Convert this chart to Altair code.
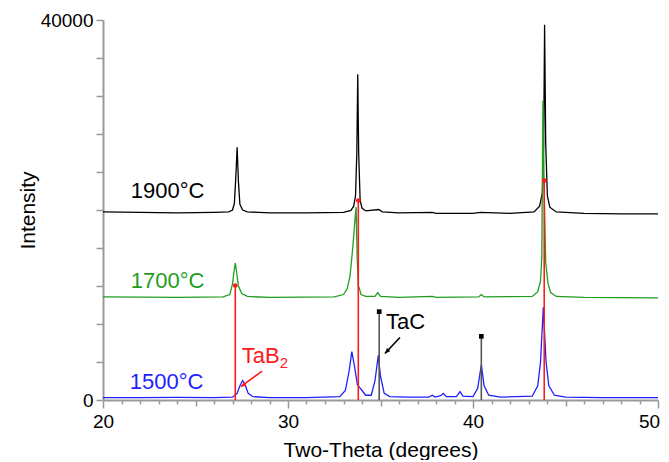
import altair as alt
import pandas as pd

# ---------------- data ----------------
theta_1900 = [20.0, 22.0, 24.0, 26.0, 26.8, 27.0, 27.1, 27.18, 27.25, 27.32, 27.4, 27.55, 27.8,
              29.0, 31.0, 33.0, 33.4, 33.55, 33.65, 33.72, 33.77, 33.82, 33.9, 34.0, 34.2,
              34.9, 35.1, 36.0, 37.8, 38.0, 40.0, 40.4, 42.0, 43.3, 43.6, 43.75, 43.82,
              43.87, 43.93, 44.02, 44.15, 44.5, 46.0, 48.0, 50.0]
int_1900 = [19800, 19750, 19700, 19750, 19800, 20000, 20700, 23500, 26600, 23000, 20600, 20000, 19800,
            19700, 19700, 19750, 19950, 20400, 21500, 26000, 34300, 26000, 21000, 20200, 19900,
            20050, 19800, 19700, 19750, 19650, 19650, 19750, 19650, 19800, 20400, 21800, 27000,
            39500, 27000, 21500, 20300, 19800, 19650, 19600, 19600]

theta_1700 = [20.0, 24.0, 26.5, 26.85, 27.0, 27.08, 27.15, 27.22, 27.32, 27.5, 27.8, 29.0,
              32.5, 33.0, 33.2, 33.35, 33.5, 33.6, 33.68, 33.74, 33.8, 33.85, 33.95, 34.2,
              34.7, 34.85, 35.0, 36.0, 37.8, 38.0, 40.3, 40.45, 40.6, 43.2, 43.5, 43.65,
              43.72, 43.78, 43.85, 43.93, 44.05, 44.2, 44.5, 46.0, 50.0]
int_1700 = [10850, 10800, 10850, 11100, 12200, 13500, 14400, 13500, 12000, 11200, 10900, 10800,
            10850, 11100, 11700, 13000, 16000, 18500, 20300, 15000, 12000, 11800, 11100, 10900,
            10900, 11300, 10900, 10800, 10900, 10800, 10850, 11100, 10850, 10900, 11400, 12500,
            15000, 31500, 22000, 14500, 12300, 11300, 10900, 10800, 10750]

theta_1500 = [20.0, 22.0, 24.0, 26.0, 27.0, 27.25, 27.4, 27.55, 27.7, 27.85, 28.1, 29.0, 31.0,
              32.8, 33.1, 33.3, 33.45, 33.6, 33.75, 33.9, 34.0, 34.2, 34.5, 34.7, 34.88, 35.0,
              35.2, 35.5, 36.5, 37.6, 37.8, 37.95, 38.25, 38.4, 38.55, 39.1, 39.3, 39.45, 40.0,
              40.25, 40.45, 40.6, 40.85, 41.5, 43.2, 43.5, 43.65, 43.8, 43.95, 44.1, 44.4,
              45.0, 47.0, 50.0]
int_1500 = [250, 250, 280, 250, 300, 700, 1500, 2050, 1500, 700, 350, 260, 250,
            350, 1000, 3000, 5100, 3500, 1600, 1250, 1000, 500, 500, 2000, 4700, 2500,
            700, 350, 300, 300, 500, 300, 450, 700, 350, 350, 870, 400, 350,
            1200, 3700, 1500, 500, 300, 400, 1500, 4000, 9750, 4000, 1500, 500,
            300, 260, 250]

series_names = ["1900°C", "1700°C", "1500°C"]
series_colors = ["#000000", "#1e9e1e", "#1f1fff"]
label_x = [21.5, 21.5, 21.45]
label_y = [21230, 11740, 1190]

# reference lines (TaB2 in red, TaC in black)
tab2_theta = [27.15, 33.8, 43.85]
tab2_height = [12050, 21000, 23100]
tac_theta = [34.93, 40.45]
tac_height = [9300, 6700]

# annotations
phase_text = ["TaB", "TaC"]
phase_color = ["#ff1a1a", "#000000"]
phase_x = [27.5, 35.3]
phase_y = [3900, 7520]
arrow_x = [28.6, 36.05]
arrow_y = [3050, 6580]
arrow_tip_x = [27.45, 35.24]
arrow_tip_y = [1400, 4890]
arrow_angle = [237, 223]

# ---------------- tables ----------------
curves = pd.concat([
    pd.DataFrame({"theta": theta_1900, "intensity": int_1900, "series": series_names[0]}),
    pd.DataFrame({"theta": theta_1700, "intensity": int_1700, "series": series_names[1]}),
    pd.DataFrame({"theta": theta_1500, "intensity": int_1500, "series": series_names[2]}),
], ignore_index=True)

labels = pd.DataFrame({"x": label_x, "y": label_y, "text": series_names, "color": series_colors})
tab2 = pd.DataFrame({"x": tab2_theta, "h": tab2_height, "zero": 0})
tac = pd.DataFrame({"x": tac_theta, "h": tac_height, "zero": 0})
phases = pd.DataFrame({"x": phase_x, "y": phase_y, "text": phase_text, "color": phase_color})
arrows = pd.DataFrame({"x": arrow_x, "y": arrow_y, "x2": arrow_tip_x, "y2": arrow_tip_y,
                       "angle": arrow_angle, "color": phase_color})

FONT = "Liberation Sans"
xscale = alt.Scale(domain=[20, 50], nice=False, zero=False)
yscale = alt.Scale(domain=[0, 40000], nice=False)

x_axis = alt.Axis(
    values=list(range(20, 51)), tickCount=200, format="d",
    labelExpr="datum.value % 10 === 0 ? datum.label : ''",
    tickSize={"condition": [{"test": "datum.value % 10 === 0", "value": 8},
                            {"test": "datum.value % 5 === 0", "value": 6}], "value": 4},
    labelOffset={"condition": {"test": "datum.value === 50", "value": -9}, "value": 0},
    labelFlush=False, labelOverlap=False, labelBound=False, grid=False,
    title="Two-Theta (degrees)", titleY=39, labelPadding=4,
)
y_axis = alt.Axis(
    values=list(range(0, 40001, 4000)), tickCount=200,
    labelExpr="datum.value === 0 || datum.value === 40000 ? datum.label : ''",
    format="d", tickSize=7, labelPadding=3, labelFlush=False, labelOverlap=False, grid=False,
    title="Intensity", titleX=-65, titleY=190,
)

lines = alt.Chart(curves).mark_line(strokeWidth=1.3).encode(
    x=alt.X("theta:Q", scale=xscale, axis=x_axis),
    y=alt.Y("intensity:Q", scale=yscale, axis=y_axis),
    color=alt.Color("series:N", scale=alt.Scale(domain=series_names, range=series_colors), legend=None),
    order=alt.Order("theta:Q"),
)

tab2_rules = alt.Chart(tab2).mark_rule(color="#ff1a1a", strokeWidth=1.6).encode(
    x="x:Q", y="zero:Q", y2="h:Q")
tab2_dots = alt.Chart(tab2).mark_circle(color="#ff1a1a", size=22, opacity=1).encode(
    x="x:Q", y="h:Q")
tac_rules = alt.Chart(tac).mark_rule(color="#555555", strokeWidth=1.6).encode(
    x="x:Q", y="zero:Q", y2="h:Q")
tac_dots = alt.Chart(tac).mark_square(color="#000000", size=22, opacity=1).encode(
    x="x:Q", y="h:Q")

series_text = alt.Chart(labels).mark_text(
    font=FONT, fontSize=22, align="left", baseline="alphabetic").encode(
    x="x:Q", y="y:Q", text="text:N", color=alt.Color("color:N", scale=None))

phase_txt = alt.Chart(phases).mark_text(
    font=FONT, fontSize=22, align="left", baseline="alphabetic").encode(
    x="x:Q", y="y:Q", text="text:N", color=alt.Color("color:N", scale=None))
sub_txt = alt.Chart(phases.iloc[[0]]).mark_text(
    font=FONT, fontSize=15, align="left", baseline="alphabetic", dx=38, dy=5,
    color="#ff1a1a").encode(x="x:Q", y="y:Q", text=alt.value("2"))

arrow_lines = alt.Chart(arrows).mark_rule(strokeWidth=1.6).encode(
    x="x:Q", y="y:Q", x2="x2:Q", y2="y2:Q", color=alt.Color("color:N", scale=None))
arrow_heads = alt.Chart(arrows).mark_point(
    shape="M0,0 L-0.5,1.2 L0.5,1.2 Z", filled=True, size=80, opacity=1).encode(
    x="x2:Q", y="y2:Q", angle=alt.Angle("angle:Q", scale=None),
    color=alt.Color("color:N", scale=None))

chart = alt.layer(
    lines, tab2_rules, tac_rules, tab2_dots, tac_dots,
    series_text, phase_txt, sub_txt, arrow_lines, arrow_heads,
).properties(
    width=555, height=380,
    autosize=alt.AutoSizeParams(type="none"),
    padding={"left": 95, "top": 12, "right": 3, "bottom": 60},
).configure_view(stroke=None).configure_axis(
    domainColor="#999999", domainWidth=2, tickColor="#999999", tickWidth=1.5,
    labelFont=FONT, labelFontSize=19, labelColor="#000000",
    titleFont=FONT, titleFontSize=21, titleFontWeight="normal", titleColor="#000000",
)

chart.save("out.html", embed_options={"renderer": "svg", "actions": False})
